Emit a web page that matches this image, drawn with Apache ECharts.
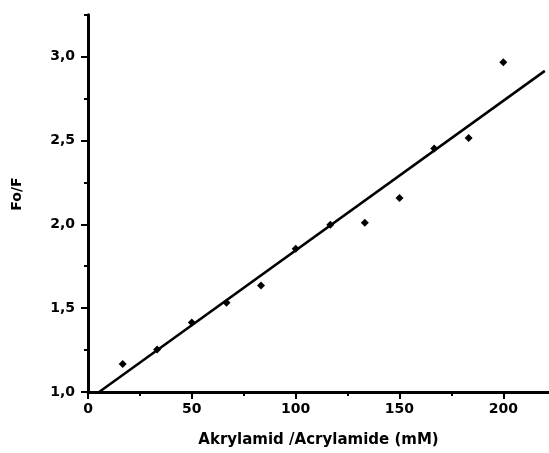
<!DOCTYPE html>
<html>
<head>
<meta charset="utf-8">
<script src="https://cdn.jsdelivr.net/npm/echarts@6/dist/echarts.min.js"></script>
<style>
  html, body { margin: 0; padding: 0; background: #fff; }
  #chart { width: 549px; height: 453px; }
</style>
</head>
<body>
<div id="chart"></div>
<script>
const concentration = [16.7, 33.3, 50, 66.7, 83.3, 100, 116.7, 133.3, 150, 166.7, 183.3, 200];
const fo_f = [1.167, 1.254, 1.415, 1.532, 1.635, 1.854, 1.998, 2.01, 2.157, 2.452, 2.514, 2.967];

// Fitted straight line endpoints
const fitX = [5.35, 220];
const fitY = [1.0, 2.915];

// Ticks and labels
const xMajorTicks = [0, 50, 100, 150, 200];
const xMajorLabels = ['0', '50', '100', '150', '200'];
const xMinorTicks = [25, 75, 125, 175];
const yMajorTicks = [1.0, 1.5, 2.0, 2.5, 3.0];
const yMajorLabels = ['1,0', '1,5', '2,0', '2,5', '3,0'];
const yMinorTicks = [1.25, 1.75, 2.25, 2.75, 3.25];

const xTitle = 'Akrylamid /Acrylamide (mM)';
const yTitle = 'Fo/F';

const font = 'DejaVu Sans';
const ink = '#000';

const chart = echarts.init(document.getElementById('chart'), null, { renderer: 'canvas' });

const xLabelMap = {};
xMajorTicks.forEach((v, i) => { xLabelMap[v] = xMajorLabels[i]; });
const yLabelMap = {};
yMajorTicks.forEach((v, i) => { yLabelMap[v.toFixed(2)] = yMajorLabels[i]; });

chart.setOption({
  animation: false,
  backgroundColor: '#fff',
  grid: { left: 88, right: 0, top: 14.7, bottom: 60.3 },
  xAxis: [
    {
      type: 'value', min: 0, max: 222,
      name: xTitle, nameLocation: 'middle', nameGap: 41,
      nameTextStyle: { fontFamily: font, fontWeight: 'bold', fontSize: 15, color: ink },
      axisLine: { show: true, onZero: false, lineStyle: { color: ink, width: 3 } },
      axisTick: { show: true, inside: false, length: 7, lineStyle: { color: ink, width: 2 }, customValues: xMajorTicks },
      axisLabel: {
        show: true, margin: 10, customValues: xMajorTicks,
        fontFamily: font, fontWeight: 'bold', fontSize: 14, color: ink,
        formatter: v => xLabelMap[v] !== undefined ? xLabelMap[v] : ''
      },
      splitLine: { show: false }
    },
    {
      type: 'value', min: 0, max: 222, position: 'bottom',
      axisLine: { show: false },
      axisTick: { show: true, inside: false, length: 4, lineStyle: { color: ink, width: 2 }, customValues: xMinorTicks },
      axisLabel: { show: false },
      splitLine: { show: false }
    }
  ],
  yAxis: [
    {
      type: 'value', min: 1.0, max: 3.25,
      axisLine: { show: true, onZero: false, lineStyle: { color: ink, width: 3 } },
      axisTick: { show: true, inside: false, length: 7, lineStyle: { color: ink, width: 2 }, customValues: yMajorTicks },
      axisLabel: {
        show: true, margin: 13, customValues: yMajorTicks,
        fontFamily: font, fontWeight: 'bold', fontSize: 14, color: ink,
        formatter: v => yLabelMap[v.toFixed(2)] || ''
      },
      splitLine: { show: false }
    },
    {
      type: 'value', min: 1.0, max: 3.25, position: 'left',
      axisLine: { show: false },
      axisTick: { show: true, inside: false, length: 4, lineStyle: { color: ink, width: 2 }, customValues: yMinorTicks },
      axisLabel: { show: false },
      splitLine: { show: false }
    }
  ],
  graphic: [
    {
      type: 'text',
      x: 17, y: 194,
      rotation: Math.PI / 2,
      style: {
        text: yTitle,
        fontFamily: font, fontWeight: 'bold', fontSize: 14, fill: ink,
        align: 'center', verticalAlign: 'middle'
      }
    }
  ],
  series: [
    {
      type: 'line',
      xAxisIndex: 0, yAxisIndex: 0,
      data: fitX.map((x, i) => [x, fitY[i]]),
      showSymbol: false,
      symbol: 'none',
      lineStyle: { color: ink, width: 2.5 },
      clip: false,
      z: 2
    },
    {
      type: 'scatter',
      xAxisIndex: 0, yAxisIndex: 0,
      data: concentration.map((x, i) => [x, fo_f[i]]),
      symbol: 'diamond',
      symbolSize: 8,
      itemStyle: { color: ink, opacity: 1 },
      z: 3
    }
  ]
});
</script>
</body>
</html>
